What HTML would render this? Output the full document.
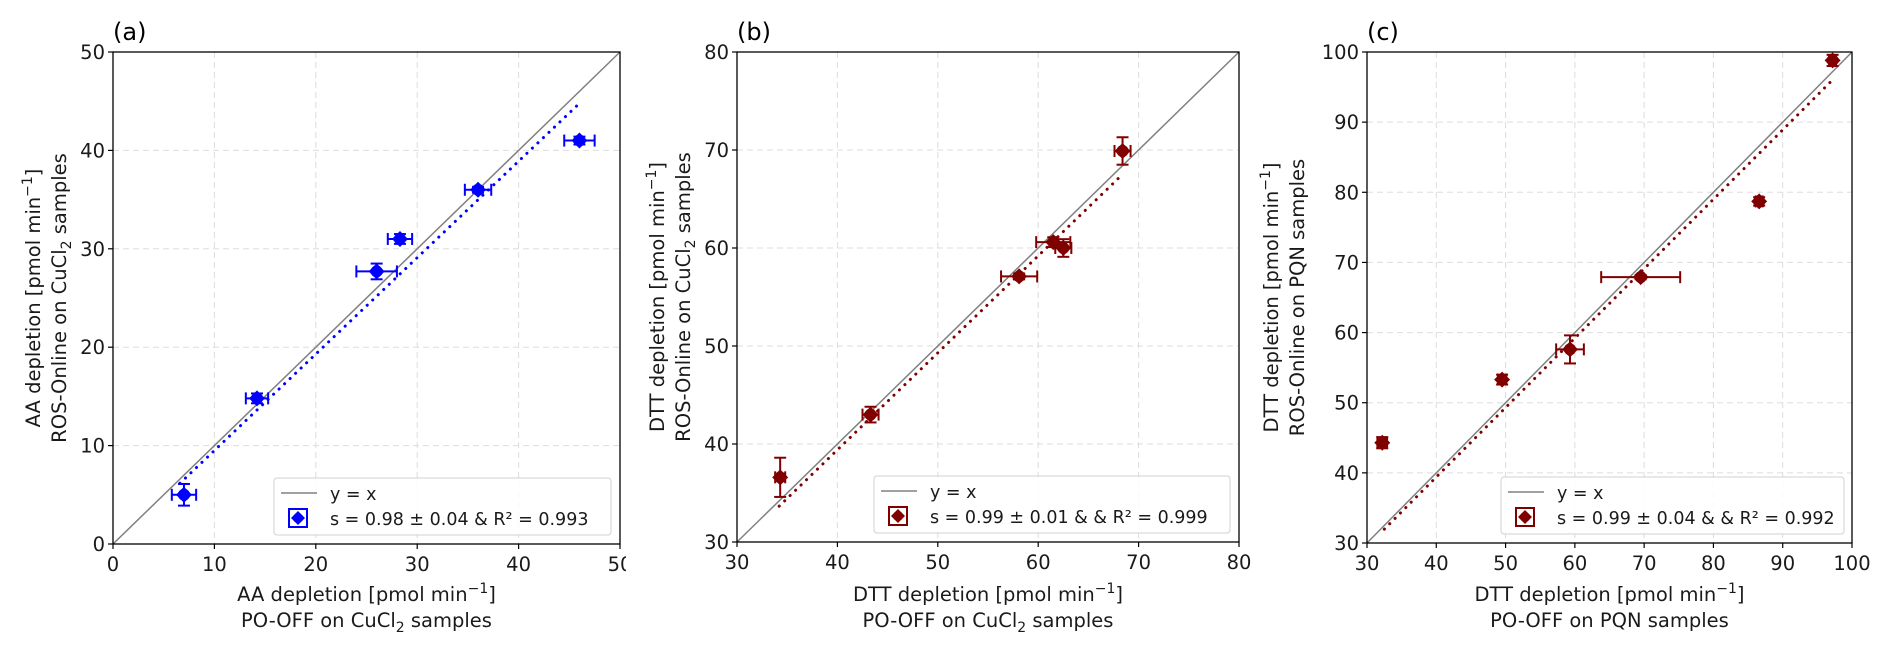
<!DOCTYPE html>
<html><head><meta charset="utf-8"><style>
html,body{margin:0;padding:0;background:#fff;}
svg{display:block;font-family:"DejaVu Sans","Liberation Sans",sans-serif;}
</style></head><body>
<svg id="fig" width="1892" height="651" viewBox="0 0 1892 651" xmlns="http://www.w3.org/2000/svg"></svg>
<script>
// Panel (a)
const aX = [7, 14.2, 26, 28.3, 36, 46];
const aY = [5, 14.8, 27.7, 31, 36, 41];
const aXerr = [1.2, 1.1, 2.0, 1.2, 1.3, 1.5];
const aYerr = [1.1, 0.5, 0.8, 0.5, 0.3, 0.4];
const aTicks = [0, 10, 20, 30, 40, 50];
const aFit = [0.98, -0.3, 6.6, 46];
// Panel (b)
const bX = [34.3, 43.3, 58.1, 61.5, 62.5, 68.4];
const bY = [36.6, 43, 57.1, 60.6, 60, 69.9];
const bXerr = [0.5, 0.8, 1.8, 1.7, 0.8, 0.8];
const bYerr = [2.0, 0.8, 0.3, 0.5, 0.9, 1.4];
const bTicks = [30, 40, 50, 60, 70, 80];
const bFit = [0.99, -0.2, 34.2, 68.2];
// Panel (c)
const cX = [32.2, 49.5, 59.3, 69.5, 86.6, 97.2];
const cY = [44.3, 53.3, 57.6, 67.9, 78.7, 98.8];
const cXerr = [0.7, 0.6, 2.0, 5.7, 0.5, 0.5];
const cYerr = [0.8, 0.7, 2.0, 0.3, 0.6, 0.8];
const cTicks = [30, 40, 50, 60, 70, 80, 90, 100];
const cFit = [0.99, -0.2, 32.5, 97];

const NS = "http://www.w3.org/2000/svg";
const svg = document.getElementById('fig');
function mk(tag, attrs, parent) {
  const e = document.createElementNS(NS, tag);
  for (const k in attrs) e.setAttribute(k, attrs[k]);
  (parent || svg).appendChild(e);
  return e;
}

const panels = [
  {id:'a', L:113, R:620, T:52, B:544, min:0, max:50, xs:aX, ys:aY, xe:aXerr, ye:aYerr, ticks:aTicks, fit:aFit, color:'#0000ff',
   ylab1:'AA depletion [pmol min', ylab2a:'ROS-Online on CuCl', ylab2b:' samples', ycu:true, yoff:-80,
   xlab1:'AA depletion [pmol min', xlab2a:'PO-OFF on CuCl', xlab2b:' samples', xcu:true,
   leg:'s = 0.98 ± 0.04 & R² = 0.993', legL:274, legR:611},
  {id:'b', L:737, R:1239, T:52, B:542, min:30, max:80, xs:bX, ys:bY, xe:bXerr, ye:bYerr, ticks:bTicks, fit:bFit, color:'#800000',
   ylab1:'DTT depletion [pmol min', ylab2a:'ROS-Online on CuCl', ylab2b:' samples', ycu:true, yoff:-80,
   xlab1:'DTT depletion [pmol min', xlab2a:'PO-OFF on CuCl', xlab2b:' samples', xcu:true,
   leg:'s = 0.99 ± 0.01 &  & R² = 0.999', legL:874, legR:1230},
  {id:'c', L:1367, R:1852, T:52, B:543, min:30, max:100, xs:cX, ys:cY, xe:cXerr, ye:cYerr, ticks:cTicks, fit:cFit, color:'#800000',
   ylab1:'DTT depletion [pmol min', ylab2a:'ROS-Online on PQN samples', ylab2b:'', ycu:false, yoff:-96,
   xlab1:'DTT depletion [pmol min', xlab2a:'PO-OFF on PQN samples', xlab2b:'', xcu:false,
   leg:'s = 0.99 ± 0.04 &  & R² = 0.992', legL:1501, legR:1844}
];

panels.forEach(p => {
  const g = mk('g', {});
  
  
  mk('rect', {x:p.L, y:p.T, width:p.R-p.L, height:p.B-p.T, fill:'#fff'}, g);
  const sx = v => p.L + (v - p.min) / (p.max - p.min) * (p.R - p.L);
  const sy = v => p.B - (v - p.min) / (p.max - p.min) * (p.B - p.T);

  p.ticks.forEach(t => {
    if (t > p.min && t < p.max) {
      const gx = mk('line', {x1:sx(t), x2:sx(t), y1:p.T, y2:p.B, stroke:'#dddddd', 'stroke-width':1, 'stroke-dasharray':'6,4'}, g);
      
      
      const gy = mk('line', {x1:p.L, x2:p.R, y1:sy(t), y2:sy(t), stroke:'#dddddd', 'stroke-width':1, 'stroke-dasharray':'6,4'}, g);
      
      
    }
  });

  const idl = mk('line', {x1:sx(p.min), y1:sy(p.min), x2:sx(p.max), y2:sy(p.max), stroke:'#808080', 'stroke-width':1.5}, g);
  
  

  const f = p.fit;
  const fl = mk('line', {x1:sx(f[2]), y1:sy(f[0]*f[2]+f[1]), x2:sx(f[3]), y2:sy(f[0]*f[3]+f[1]), stroke:p.color, 'stroke-width':3, 'stroke-dasharray':'0.1,7.5', 'stroke-linecap':'round'}, g);
  
  

  p.xs.forEach((xv, i) => {
    const yv = p.ys[i];
    const pg = mk('g', {stroke:p.color, 'stroke-width':2, fill:p.color}, g);
    
    
    const cx = sx(xv), cy = sy(yv);
    const x1 = sx(xv - p.xe[i]), x2 = sx(xv + p.xe[i]);
    const y1 = sy(yv - p.ye[i]), y2 = sy(yv + p.ye[i]);
    mk('line', {x1:x1, x2:x2, y1:cy, y2:cy}, pg);
    mk('line', {x1:x1, x2:x1, y1:cy-6, y2:cy+6}, pg);
    mk('line', {x1:x2, x2:x2, y1:cy-6, y2:cy+6}, pg);
    mk('line', {x1:cx, x2:cx, y1:y1, y2:y2}, pg);
    mk('line', {x1:cx-6, x2:cx+6, y1:y1, y2:y1}, pg);
    mk('line', {x1:cx-6, x2:cx+6, y1:y2, y2:y2}, pg);
    mk('path', {d:`M${cx} ${cy-8}L${cx+8} ${cy}L${cx} ${cy+8}L${cx-8} ${cy}Z`, stroke:'none'}, pg);
    mk('circle', {cx:cx, cy:cy, r:6, stroke:'none'}, pg);
  });

  const fr = mk('rect', {x:p.L, y:p.T, width:p.R-p.L, height:p.B-p.T, fill:'none', stroke:'#000', 'stroke-width':1.3}, g);
  
  

  p.ticks.forEach(t => {
    mk('line', {x1:sx(t), x2:sx(t), y1:p.B, y2:p.B+5, stroke:'#000', 'stroke-width':1.2}, g);
    mk('line', {x1:p.L-5, x2:p.L, y1:sy(t), y2:sy(t), stroke:'#000', 'stroke-width':1.2}, g);
    const tx = mk('text', {x:sx(t), y:p.B+27, 'font-size':19.5, 'text-anchor':'middle', fill:'#1a1a1a'}, g);
    tx.textContent = t;
    
    
    const ty = mk('text', {x:p.L-8, y:sy(t)+7, 'font-size':19.5, 'text-anchor':'end', fill:'#1a1a1a'}, g);
    ty.textContent = t;
    
    
  });

  const pl = mk('text', {x:p.L, y:40, 'font-size':24, fill:'#000'}, g);
  pl.textContent = '(' + p.id + ')';
  
  

  const mx = (p.L + p.R) / 2;
  const xt = mk('text', {x:mx, y:601, 'font-size':19.5, 'text-anchor':'middle', fill:'#1a1a1a'}, g);
  xt.innerHTML = p.xlab1 + '<tspan dy="-8" font-size="14">−1</tspan><tspan dy="8">]</tspan>';
  
  
  const xt2 = mk('text', {x:mx, y:627, 'font-size':19.5, 'text-anchor':'middle', fill:'#1a1a1a'}, g);
  xt2.innerHTML = p.xcu ? (p.xlab2a + '<tspan dy="5" font-size="14">2</tspan><tspan dy="-5">' + p.xlab2b + '</tspan>') : p.xlab2a;
  
  

  const my = (p.T + p.B) / 2;
  const yx1 = p.L + p.yoff, yx2 = p.L + p.yoff + 26;
  const yt = mk('text', {x:0, y:0, 'font-size':19.5, 'text-anchor':'middle', fill:'#1a1a1a', transform:`translate(${yx1+7},${my}) rotate(-90)`}, g);
  yt.innerHTML = p.ylab1 + '<tspan dy="-8" font-size="14">−1</tspan><tspan dy="8">]</tspan>';
  
  
  const yt2 = mk('text', {x:0, y:0, 'font-size':19.5, 'text-anchor':'middle', fill:'#1a1a1a', transform:`translate(${yx2+7},${my}) rotate(-90)`}, g);
  yt2.innerHTML = p.ycu ? (p.ylab2a + '<tspan dy="5" font-size="14">2</tspan><tspan dy="-5">' + p.ylab2b + '</tspan>') : p.ylab2a;
  
  

  const lg = mk('g', {}, g);
  
  
  const lT = p.B - 66, lB = p.B - 9;
  mk('rect', {x:p.legL, y:lT, width:p.legR-p.legL, height:lB-lT, rx:3, fill:'#fff', 'fill-opacity':0.85, stroke:'#d0d0d0', 'stroke-width':1}, lg);
  const e1 = mk('g', {}, lg);
  
  
  mk('line', {x1:p.legL+7, x2:p.legL+43, y1:lT+15, y2:lT+15, stroke:'#808080', 'stroke-width':1.5}, e1);
  const t1 = mk('text', {x:p.legL+56, y:lT+22, 'font-size':17.5, fill:'#1a1a1a'}, e1);
  t1.textContent = 'y = x';
  const e2 = mk('g', {}, lg);
  
  
  const hx = p.legL + 24, hy = lT + 40;
  mk('rect', {x:hx-9, y:hy-9, width:18, height:18, fill:'none', stroke:p.color, 'stroke-width':2}, e2);
  mk('path', {d:`M${hx} ${hy-7}L${hx+7} ${hy}L${hx} ${hy+7}L${hx-7} ${hy}Z`, fill:p.color}, e2);
  mk('circle', {cx:hx, cy:hy, r:5, fill:p.color}, e2);
  const t2 = mk('text', {x:p.legL+56, y:lT+47, 'font-size':17.5, fill:'#1a1a1a'}, e2);
  t2.textContent = p.leg;

  if (p.id === 'a') {
    mk('rect', {x:626, y:550, width:40, height:30, fill:'#fff'});
  }
});
</script>
</body></html>
